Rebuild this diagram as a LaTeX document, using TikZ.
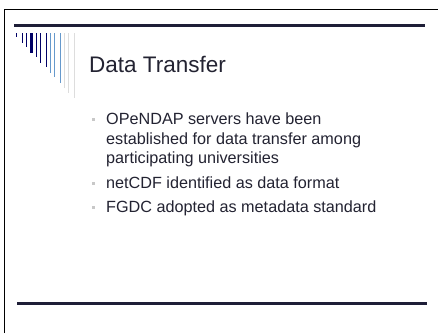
\documentclass[tikz,border=0pt]{standalone}
\usepackage{fontspec}
\setmainfont{Liberation Sans}
\definecolor{navy}{RGB}{0,0,102}
\definecolor{lblue}{RGB}{102,153,204}
\definecolor{lgray}{RGB}{221,221,221}
\definecolor{rulec}{RGB}{30,30,55}
\definecolor{txt}{RGB}{35,35,50}
\definecolor{bul}{RGB}{200,200,200}
\tikzset{
  bar/.style={fill=#1, draw=none},
  bodyline/.style={anchor=base west, inner sep=0pt, text=txt, font=\fontsize{16.2}{19.5}\selectfont},
  titletext/.style={anchor=base west, inner sep=0pt, text=txt, font=\fontsize{22.5}{27}\selectfont},
  bulletsq/.style={fill=bul, draw=none, minimum size=3pt, inner sep=0pt}
}
\begin{document}
\begin{tikzpicture}[x=1pt,y=-1pt]
\useasboundingbox (0,0) rectangle (438,333);
\fill[white] (0,0) rectangle (438,333);
% frame
\draw[line width=1.4pt, black] (4.7,333) -- (4.7,9.5) -- (438,9.5);
% rules
\draw[rulec, line width=3pt] (14,25) -- (425,25);
\draw[rulec, line width=2.2pt] (17,303.5) -- (427,303.5);
% bars
\foreach \x/\w/\b/\c in {16/1.4/37/navy, 22/1.4/43/navy, 26/1.4/47/navy, 30/3.3/53/navy, 36/1.4/57/navy, 40/1.4/63/navy, 46/1.4/67/navy, 50/1.4/73/lblue, 54/1.4/77/lblue, 60/1.4/83/lblue, 64/1.4/88/lgray, 68/1.4/93/lgray, 74/1.4/98/lgray}
  \fill[bar=\c] (\x,33) rectangle ++(\w,\b-33);
% title
\node[titletext] (title) at (89,72) {Data Transfer};
% bullets
\node[bulletsq] (d1) at (93.5,119.5) {};
\node[bodyline] (l1a) at (106,124.3) {OPeNDAP servers have been};
\node[bodyline] (l1b) at (106,144) {established for data transfer among};
\node[bodyline] (l1c) at (106,163.5) {participating universities};
\node[bulletsq] (d2) at (93.5,183.5) {};
\node[bodyline] (l2) at (106,188.3) {netCDF identified as data format};
\node[bulletsq] (d3) at (93.5,207.5) {};
\node[bodyline] (l3) at (106,212.3) {FGDC adopted as metadata standard};
\end{tikzpicture}
\end{document}
